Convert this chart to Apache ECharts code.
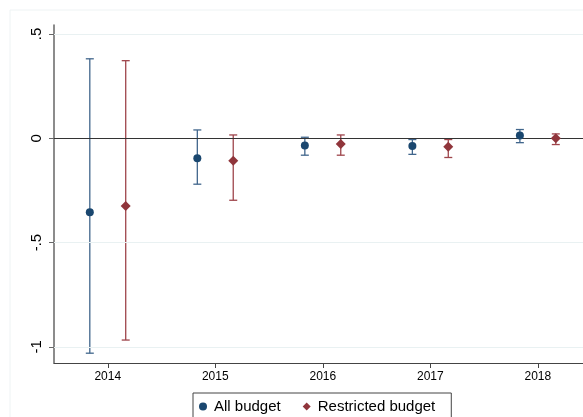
<!DOCTYPE html>
<html>
<head>
<meta charset="utf-8">
<script src="https://cdn.jsdelivr.net/npm/echarts@6/dist/echarts.min.js"></script>
<style>
html, body { margin: 0; padding: 0; background: #fff; }
#main { width: 583px; height: 417px; }
</style>
</head>
<body>
<div id="main"></div>
<script>
var years = [2014, 2015, 2016, 2017, 2018];
var yTicks = [-1, -0.5, 0, 0.5];
var yTickLabels = ['-1', '-.5', '0', '.5'];

// point estimate and confidence bounds, per year
var allEst = [-0.354, -0.096, -0.034, -0.037, 0.013];
var allLow = [-1.03, -0.22, -0.081, -0.077, -0.021];
var allHigh = [0.381, 0.04, 0.005, -0.006, 0.042];

var resEst = [-0.325, -0.108, -0.027, -0.04, 0.0];
var resLow = [-0.967, -0.297, -0.081, -0.092, -0.03];
var resHigh = [0.372, 0.016, 0.016, -0.006, 0.021];

var offset = 0.167;

var myChart = echarts.init(document.getElementById('main'));

function pts(est, shift) {
    return years.map(function (y, i) { return [y + shift, est[i]]; });
}
function bars(low, high, shift) {
    return years.map(function (y, i) { return [y + shift, low[i], high[i]]; });
}
function errorBar(color) {
    return function (params, api) {
        var x = api.value(0);
        var p1 = api.coord([x, api.value(1)]);
        var p2 = api.coord([x, api.value(2)]);
        var cap = 4;
        var style = { stroke: color, lineWidth: 1.3 };
        return {
            type: 'group',
            children: [
                { type: 'line', shape: { x1: p1[0], y1: p1[1], x2: p2[0], y2: p2[1] }, style: style },
                { type: 'line', shape: { x1: p1[0] - cap, y1: p1[1], x2: p1[0] + cap, y2: p1[1] }, style: style },
                { type: 'line', shape: { x1: p2[0] - cap, y1: p2[1], x2: p2[0] + cap, y2: p2[1] }, style: style }
            ]
        };
    };
}

option = {
    backgroundColor: '#fff',
    animation: false,
    graphic: [{
        type: 'rect',
        shape: { x: 10, y: 10, width: 600, height: 420 },
        style: { fill: 'none', stroke: '#eef3f4', lineWidth: 1 },
        silent: true
    }],
    grid: { left: 54, right: 0, top: 25, bottom: 54 },
    legend: {
        left: 193,
        top: 393,
        padding: [6, 16, 12, 6],
        borderColor: '#444',
        borderWidth: 1,
        itemWidth: 8,
        itemHeight: 8,
        itemGap: 22,
        textStyle: { fontSize: 15, color: '#000', fontFamily: 'Liberation Sans', padding: [0, 0, 0, 2] },
        data: [
            { name: 'All budget', icon: 'circle' },
            { name: 'Restricted budget', icon: 'diamond' }
        ]
    },
    xAxis: {
        type: 'value',
        min: 2013.5,
        max: 2018.42,
        splitLine: { show: false },
        axisLine: { onZero: false, lineStyle: { color: '#444', width: 1.2 } },
        axisTick: { length: 5, customValues: years, lineStyle: { color: '#444' } },
        axisLabel: {
            customValues: years,
            color: '#000',
            fontSize: 12,
            margin: 8,
            fontFamily: 'Liberation Sans',
            formatter: function (v) { return String(v); }
        }
    },
    yAxis: {
        type: 'value',
        min: -1.077,
        max: 0.543,
        splitLine: { show: false },
        axisLine: { show: true, lineStyle: { color: '#666', width: 1.5 } },
        axisTick: { show: true, length: 5, customValues: yTicks, lineStyle: { color: '#666' } },
        axisLabel: {
            customValues: yTicks,
            rotate: 90,
            color: '#000',
            fontSize: 15,
            margin: 10,
            fontFamily: 'Liberation Sans',
            formatter: function (v) {
                var i = yTicks.indexOf(Math.round(v * 10) / 10);
                return i >= 0 ? yTickLabels[i] : '';
            }
        }
    },
    series: [
        {
            name: 'grid',
            type: 'line',
            data: [],
            silent: true,
            markLine: {
                symbol: 'none',
                label: { show: false },
                silent: true,
                data: [
                    { yAxis: -1, lineStyle: { color: '#e9f1f2', width: 1.2, type: 'solid' } },
                    { yAxis: -0.5, lineStyle: { color: '#e9f1f2', width: 1.2, type: 'solid' } },
                    { yAxis: 0.5, lineStyle: { color: '#e9f1f2', width: 1.2, type: 'solid' } },
                    { yAxis: 0, lineStyle: { color: '#333', width: 1.2, type: 'solid' } }
                ]
            }
        },
        {
            name: 'All budget CI',
            type: 'custom',
            renderItem: errorBar('#41668c'),
            data: bars(allLow, allHigh, -offset),
            encode: { x: 0, y: [1, 2] },
            z: 3
        },
        {
            name: 'Restricted budget CI',
            type: 'custom',
            renderItem: errorBar('#9e454b'),
            data: bars(resLow, resHigh, offset),
            encode: { x: 0, y: [1, 2] },
            z: 3
        },
        {
            name: 'All budget',
            type: 'scatter',
            symbol: 'circle',
            symbolSize: 8,
            itemStyle: { color: '#1a476f', opacity: 1 },
            data: pts(allEst, -offset),
            z: 5
        },
        {
            name: 'Restricted budget',
            type: 'scatter',
            symbol: 'diamond',
            symbolSize: 10,
            itemStyle: { color: '#90353b', opacity: 1 },
            data: pts(resEst, offset),
            z: 5
        }
    ]
};

myChart.setOption(option);
</script>
</body>
</html>
